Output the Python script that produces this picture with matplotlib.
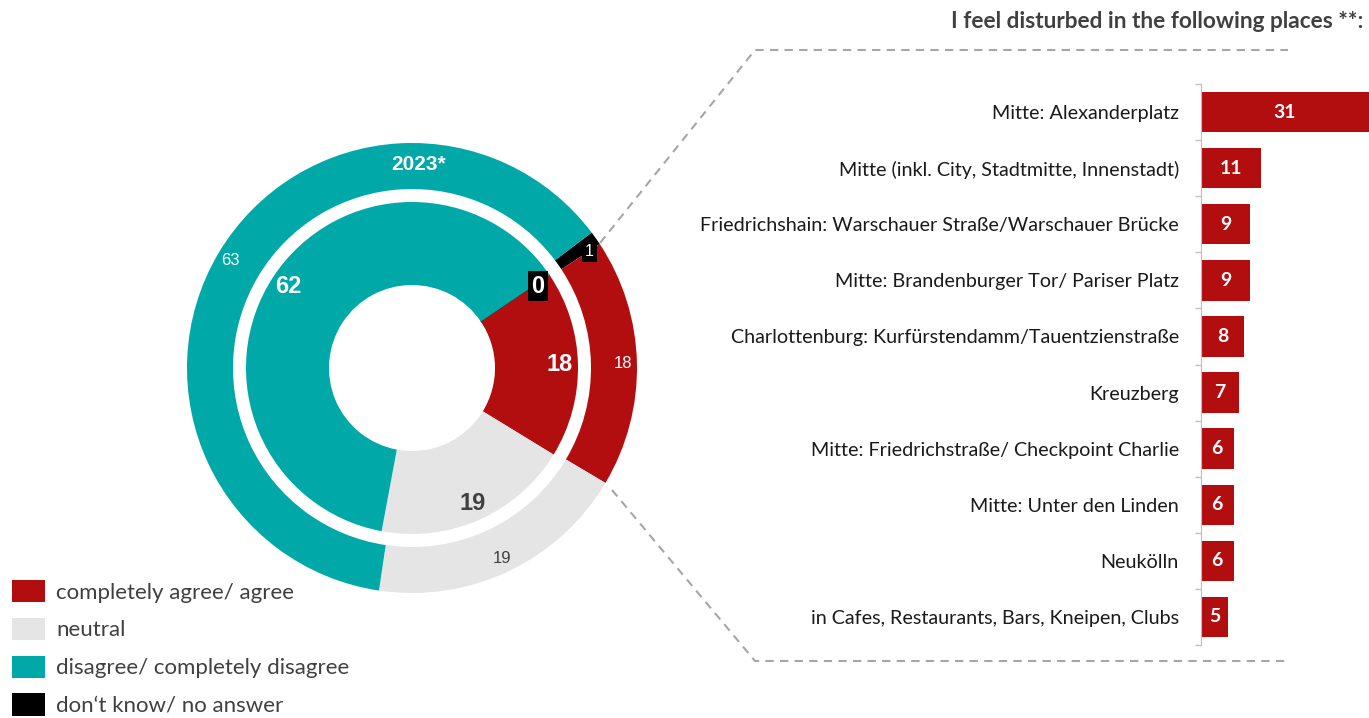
import numpy as np
import matplotlib.pyplot as plt
from matplotlib.lines import Line2D
from matplotlib.patches import Patch

plt.rcParams['font.family'] = ['Lato', 'DejaVu Sans']

# data
answers = ["don‘t know/ no answer", "completely agree/ agree", "neutral",
           "disagree/ completely disagree"]
outer_vals = [1, 18, 19, 63]   # outer ring
inner_vals = [0, 18, 19, 62]   # inner ring
year_label = "2023*"

places = ["Mitte: Alexanderplatz",
          "Mitte (inkl. City, Stadtmitte, Innenstadt)",
          "Friedrichshain: Warschauer Straße/Warschauer Brücke",
          "Mitte: Brandenburger Tor/ Pariser Platz",
          "Charlottenburg: Kurfürstendamm/Tauentzienstraße",
          "Kreuzberg",
          "Mitte: Friedrichstraße/ Checkpoint Charlie",
          "Mitte: Unter den Linden",
          "Neukölln",
          "in Cafes, Restaurants, Bars, Kneipen, Clubs"]
place_vals = [31, 11, 9, 9, 8, 7, 6, 6, 6, 5]
title = "I feel disturbed in the following places **:"

RED = '#B20E10'
GREY = '#E5E5E5'
TEAL = '#00A8A8'
BLACK = '#000000'
DARK = '#404040'
cols = [BLACK, RED, GREY, TEAL]
ARIAL = ['Liberation Sans', 'DejaVu Sans']

W, H = 1369, 718
fig = plt.figure(figsize=(W / 100, H / 100), dpi=100)


def fx(px):
    return px / W


def fy(py):
    return 1 - py / H


# ---- donut
ax = fig.add_axes([fx(172), fy(608), 480 / W, 480 / H])
wo, _ = ax.pie(outer_vals, colors=cols, startangle=37, counterclock=False,
               radius=225, wedgeprops=dict(width=46, edgecolor='none'))
wi, _ = ax.pie(inner_vals, colors=cols, startangle=34, counterclock=False,
               radius=166, wedgeprops=dict(width=83, edgecolor='none'))
wi[0].set_edgecolor(BLACK)
wi[0].set_linewidth(2)
ax.set_xlim(-240, 240)
ax.set_ylim(-240, 240)
ax.set_aspect('equal')
ax.axis('off')


def mid(w, r):
    a = np.deg2rad((w.theta1 + w.theta2) / 2)
    return r * np.cos(a), r * np.sin(a)


txt_col = ['white', 'white', DARK, 'white']
for k in range(4):
    x, y = mid(wo[k], 211)
    if k == 0:
        ax.text(x + 5, y - 5, str(outer_vals[k]), ha='center', va='center', color='white',
                fontsize=11.5, family=ARIAL,
                bbox=dict(boxstyle='square,pad=0.18', fc=BLACK, ec='none'))
    else:
        ax.text(x, y, str(outer_vals[k]), ha='center', va='center',
                color=txt_col[k], fontsize=12, family=ARIAL)
    x, y = mid(wi[k], 148)
    if k == 0:
        ax.text(x + 3, y - 1, str(inner_vals[k]), ha='center', va='center', color='white',
                fontsize=17, fontweight='bold', family=ARIAL,
                bbox=dict(boxstyle='square,pad=0.14', fc=BLACK, ec='none'))
    else:
        ax.text(x, y, str(inner_vals[k]), ha='center', va='center',
                color=txt_col[k], fontsize=17, fontweight='bold', family=ARIAL)
ax.text(7, 203, year_label, ha='center', va='center', color='white',
        fontsize=15, fontweight='bold', family=ARIAL)

# ---- bars
bx = fig.add_axes([fx(1201), fy(645), 168 / W, (645 - 84) / H])
pos = np.arange(len(places))
bx.barh(pos, place_vals, height=0.72, color=RED)
bx.set_xlim(0, 31)
bx.set_ylim(len(places) - 0.5, -0.5)
bx.set_yticks(pos, places, fontsize=14.2, color='#1A1A1A')
bx.set_yticks(np.arange(-0.5, len(places)), minor=True)
bx.tick_params(axis='y', which='major', length=0, pad=16)
bx.tick_params(axis='y', which='minor', length=4, color='#BFBFBF', width=1)
bx.set_xticks([])
for s in ['top', 'right', 'bottom']:
    bx.spines[s].set_visible(False)
bx.spines['left'].set_color('#BFBFBF')
for i, v in enumerate(place_vals):
    bx.text(v / 2, i, str(v), ha='center', va='center', color='white',
            fontsize=14, fontweight='bold')

fig.text(fx(1363), fy(22), title, ha='right', va='center', fontsize=16.3,
         fontweight='bold', color=DARK)

# ---- connector lines
dash = dict(color='#A6A6A6', lw=1.5, ls=(0, (4, 3)))
fig.add_artist(Line2D([fx(600), fx(755), fx(1288)], [fy(243), fy(50), fy(50)], **dash))
fig.add_artist(Line2D([fx(612), fx(755), fx(1288)], [fy(490), fy(661), fy(661)], **dash))

# ---- legend
order = [1, 2, 3, 0]
handles = [Patch(facecolor=cols[k], edgecolor='none') for k in order]
fig.legend(handles, [answers[k] for k in order], loc='lower left',
           bbox_to_anchor=(fx(12), fy(716)), frameon=False, fontsize=16,
           labelcolor=DARK, handlelength=1.5, handleheight=1.17,
           handletextpad=0.5, labelspacing=0.68, borderaxespad=0, borderpad=0)

fig.savefig('out.png', dpi=100)
